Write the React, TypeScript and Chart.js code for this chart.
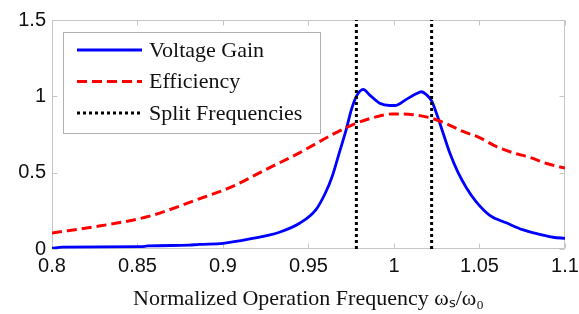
import React, { useEffect, useRef } from "react";
import { Chart, registerables } from "chart.js";

Chart.register(...registerables);

// ---- data ----
const xTickLabels = ["0.8", "0.85", "0.9", "0.95", "1", "1.05", "1.1"];
const yTickLabels = ["0", "0.5", "1", "1.5"];

const gainFreq = [
  0.8, 0.806, 0.852, 0.856, 0.88, 0.886, 0.9, 0.915, 0.933, 0.945, 0.9545, 0.96,
  0.964, 0.968, 0.972, 0.975, 0.978, 0.982, 0.9857, 0.9916, 0.9975, 1.0005,
  1.0072, 1.013, 1.016, 1.019, 1.022, 1.0248, 1.0287, 1.0326, 1.0375, 1.0424,
  1.048, 1.056, 1.066, 1.0756, 1.0853, 1.093, 1.1,
];
const gainValues = [
  0.005, 0.012, 0.015, 0.02, 0.025, 0.03, 0.037, 0.064, 0.11, 0.17, 0.26, 0.37,
  0.48, 0.63, 0.78, 0.91, 1.0, 1.045, 1.01, 0.955, 0.94, 0.94,
  0.98, 1.017, 1.03, 1.01, 0.97, 0.89, 0.76, 0.63, 0.5, 0.4,
  0.31, 0.22, 0.17, 0.125, 0.096, 0.077, 0.07,
];

const effFreq = [
  0.8, 0.8275, 0.857, 0.884, 0.9056, 0.925, 0.9447, 0.964, 0.976, 0.9877, 0.9994,
  1.011, 1.021, 1.0307, 1.0404, 1.05, 1.06, 1.0697, 1.0795, 1.0893, 1.1,
];
const effValues = [
  0.105, 0.15, 0.215, 0.32, 0.41, 0.52, 0.63, 0.75, 0.815, 0.86, 0.885,
  0.88, 0.86, 0.82, 0.77, 0.73, 0.67, 0.63, 0.6, 0.56, 0.53,
];

const splitFreqs = [0.978, 1.022];
const splitRange = [0, 1.5];

const seriesLabels = ["Voltage Gain", "Efficiency", "Split Frequencies"];

const SERIF = "'Liberation Serif', 'Times New Roman', serif";
const SANS = "'Liberation Sans', Arial, sans-serif";

const framePlugin = {
  id: "frame",
  beforeDatasetsDraw(chart: any) {
    const { ctx, chartArea: a, scales } = chart;
    const L = Math.round(a.left) + 0.5;
    const R = Math.round(a.right) - 0.5;
    const T = Math.round(a.top) + 0.5;
    const B = Math.round(a.bottom) - 0.5;
    ctx.save();
    ctx.strokeStyle = "#c6c6c6";
    ctx.lineWidth = 1;
    ctx.strokeRect(L, T, R - L, B - T);
    const tl = 5;
    ctx.beginPath();
    scales.x.ticks.forEach((t: any) => {
      const px = Math.round(scales.x.getPixelForValue(t.value)) + 0.5;
      ctx.moveTo(px, B);
      ctx.lineTo(px, B - tl);
      ctx.moveTo(px, T);
      ctx.lineTo(px, T + tl);
    });
    scales.y.ticks.forEach((t: any) => {
      const py = Math.round(scales.y.getPixelForValue(t.value)) + 0.5;
      ctx.moveTo(L, py);
      ctx.lineTo(L + tl, py);
      ctx.moveTo(R, py);
      ctx.lineTo(R - tl, py);
    });
    ctx.stroke();
    ctx.restore();
  },
};

const legendPlugin = {
  id: "boxLegend",
  afterDatasetsDraw(chart: any) {
    const { ctx } = chart;
    const items = chart.data.datasets.filter((d: any) => d.inLegend);
    items.sort((p: any, q: any) => p.legendIndex - q.legendIndex);
    const x0 = 63.5, y0 = 32.5, w = 257, h = 101;
    ctx.save();
    ctx.fillStyle = "#ffffff";
    ctx.fillRect(x0, y0, w, h);
    ctx.strokeStyle = "#b0b0b0";
    ctx.lineWidth = 1;
    ctx.strokeRect(x0, y0, w, h);
    items.forEach((d: any, i: number) => {
      const y = 50 + i * 31.5;
      ctx.beginPath();
      ctx.strokeStyle = d.borderColor;
      ctx.lineWidth = d.borderWidth;
      ctx.setLineDash(d.borderDash || []);
      ctx.moveTo(77, y);
      ctx.lineTo(142, y);
      ctx.stroke();
      ctx.setLineDash([]);
      ctx.fillStyle = "#111";
      ctx.font = `22px ${SERIF}`;
      ctx.textBaseline = "middle";
      ctx.textAlign = "left";
      ctx.fillText(d.label, 149, y + 1);
    });
    ctx.restore();
  },
};

export default function App() {
  const ref = useRef<HTMLCanvasElement | null>(null);

  useEffect(() => {
    document.body.style.margin = "0";
    const canvas = ref.current;
    if (!canvas) return;

    const gainData = gainFreq.map((x, i) => ({ x, y: gainValues[i] }));
    const effData = effFreq.map((x, i) => ({ x, y: effValues[i] }));

    const splitSets = splitFreqs.map((f, i) => ({
      label: seriesLabels[2],
      data: splitRange.map((y) => ({ x: f, y })),
      borderColor: "#000000",
      borderWidth: 3,
      borderDash: [3, 3],
      pointRadius: 0,
      fill: false,
      inLegend: i === 0,
      legendIndex: 2,
    }));

    const chart = new Chart(canvas, {
      type: "line",
      data: {
        datasets: [
          ...splitSets,
          {
            label: seriesLabels[1],
            data: effData,
            borderColor: "#ff0000",
            borderWidth: 3,
            borderDash: [10, 5],
            pointRadius: 0,
            fill: false,
            cubicInterpolationMode: "monotone",
            inLegend: true,
            legendIndex: 1,
          },
          {
            label: seriesLabels[0],
            data: gainData,
            borderColor: "#0000ff",
            borderWidth: 2.8,
            pointRadius: 0,
            fill: false,
            cubicInterpolationMode: "monotone",
            inLegend: true,
            legendIndex: 0,
          },
        ] as any,
      },
      options: {
        animation: false,
        responsive: false,
        maintainAspectRatio: false,
        layout: { padding: { left: 0, top: 20, right: 14, bottom: 0 } },
        plugins: {
          legend: { display: false },
          tooltip: { enabled: false },
        },
        scales: {
          x: {
            type: "linear",
            min: 0.8,
            max: 1.1,
            grid: { display: false, drawTicks: false },
            border: { display: false },
            afterBuildTicks: (scale: any) => {
              scale.ticks = xTickLabels.map((l) => ({ value: parseFloat(l) }));
            },
            afterFit: (scale: any) => {
              scale.height = 65;
              scale.paddingLeft = 0;
              scale.paddingRight = 0;
            },
            ticks: {
              autoSkip: false,
              maxRotation: 0,
              padding: 5,
              color: "#111",
              font: { family: SANS, size: 20 },
              callback: (_v: any, i: number) => xTickLabels[i],
            },
            title: {
              display: true,
              text: "Normalized Operation Frequency ωₛ/ω₀",
              color: "#111",
              font: { family: SERIF, size: 22 },
              padding: { top: 0, bottom: 2 },
            },
          },
          y: {
            type: "linear",
            min: 0,
            max: 1.5,
            grid: { display: false, drawTicks: false },
            border: { display: false },
            afterBuildTicks: (scale: any) => {
              scale.ticks = yTickLabels.map((l) => ({ value: parseFloat(l) }));
            },
            afterFit: (scale: any) => {
              scale.width = 52;
              scale.paddingTop = 0;
              scale.paddingBottom = 0;
            },
            ticks: {
              padding: 6,
              color: "#111",
              font: { family: SANS, size: 20 },
              callback: (_v: any, i: number) => yTickLabels[i],
            },
          },
        },
      } as any,
      plugins: [framePlugin, legendPlugin],
    });

    return () => chart.destroy();
  }, []);

  return (
    <div style={{ width: 579, height: 314 }}>
      <canvas ref={ref} width={579} height={314} />
    </div>
  );
}
